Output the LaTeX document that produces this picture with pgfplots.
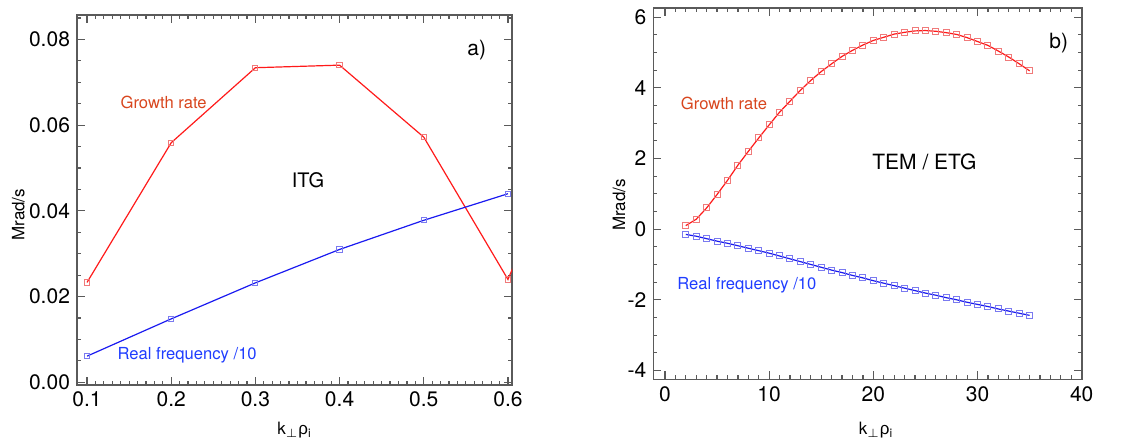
\documentclass[border=0pt]{standalone}
\usepackage{fontspec}
\setmainfont{TeX Gyre Heros}
\newfontfamily\grk{Liberation Sans}
\usepackage{pgfplots}
\pgfplotsset{compat=1.18}
\definecolor{lred}{HTML}{FF1A1A}
\definecolor{mred}{HTML}{F07A7A}
\definecolor{lblue}{HTML}{1A1AF0}
\definecolor{mblue}{HTML}{7A7AF0}
\definecolor{txtred}{HTML}{D8461E}
\definecolor{txtblue}{HTML}{1F3DFF}
\definecolor{framec}{HTML}{5A5A5A}
\pgfplotsset{mystyle/.style={scale only axis, anchor=south west,
  axis line style={framec, line width=0.8pt},
  tick style={framec, line width=0.6pt},
  tick align=inside, major tick length=4pt, minor tick length=2pt,
  ticklabel style={font=\fontsize{10.5}{12}\selectfont, text=black},
  /pgf/number format/assume math mode=true,
  label style={font=\fontsize{8.5}{10}\selectfont},
  xlabel={k\textsubscript{$\perp$}{\grk ρ}\textsubscript{i}},
  ylabel={Mrad/s},
}}
\begin{document}
\begin{tikzpicture}
\useasboundingbox (0,0) rectangle (571pt,220pt);
% ---------------- left panel
\begin{axis}[mystyle, at={(38.5pt,27.5pt)}, width=217.5pt, height=185pt,
  xmin=0.0881, xmax=0.6048, ymin=-0.00063, ymax=0.0857,
  xtick={0.1,0.2,0.3,0.4,0.5,0.6}, ytick={0,0.02,0.04,0.06,0.08},
  minor x tick num=9,
  minor ytick={0.005,0.01,0.015,0.025,0.03,0.035,0.045,0.05,0.055,0.065,0.07,0.075,0.085},
  yticklabel style={/pgf/number format/.cd, fixed, fixed zerofill, precision=2},
  xticklabel style={/pgf/number format/.cd, fixed, fixed zerofill, precision=1},
  scaled y ticks=false,
  xlabel style={at={(axis description cs:0.5,-0.122)}, anchor=center},
  ylabel style={at={(axis description cs:-0.135,0.46)}, anchor=center},
]
\addplot[lred, line width=0.6pt, mark=square, mark size=1.3pt,
  mark options={mred, line width=0.5pt}] coordinates {
  (0.1,0.0233) (0.2,0.0559) (0.3,0.0734) (0.4,0.0740) (0.5,0.0572) (0.6,0.0240) (0.7,0.070)};
\addplot[lblue, line width=0.6pt, mark=square, mark size=1.3pt,
  mark options={mblue, line width=0.5pt}] coordinates {
  (0.1,0.0061) (0.2,0.0148) (0.3,0.0232) (0.4,0.0310) (0.5,0.0378) (0.6,0.0440)};
\node[txtred, font=\fontsize{8.3}{10}\selectfont] at (axis cs:0.191,0.0654) {Growth rate};
\node[txtblue, font=\fontsize{8.3}{10}\selectfont] at (axis cs:0.219,0.00625) {Real frequency /10};
\node[black, font=\fontsize{10}{12}\selectfont] at (axis cs:0.3625,0.0472) {ITG};
\node[black, font=\fontsize{10.5}{12}\selectfont] at (axis cs:0.563,0.0776) {a)};
\end{axis}
% ---------------- right panel
\begin{axis}[mystyle, at={(326.65pt,30.35pt)}, width=214.2pt, height=185.5pt,
  xmin=-1.12, xmax=40, ymin=-4.25, ymax=6.25,
  xtick={0,10,20,30,40}, ytick={-4,-2,0,2,4,6},
  minor x tick num=9, minor y tick num=3,
  xlabel style={at={(axis description cs:0.52,-0.136)}, anchor=center},
  ylabel style={at={(axis description cs:-0.08,0.47)}, anchor=center},
]
\addplot[lred, line width=0.6pt, mark=square, mark size=1.5pt,
  mark options={mred, line width=0.5pt}] coordinates {
  (2,0.10) (3,0.28) (4,0.60) (5,0.98) (6,1.38) (7,1.81) (8,2.20) (9,2.58)
  (10,2.95) (11,3.31) (12,3.62) (13,3.93) (14,4.21) (15,4.46) (16,4.68)
  (17,4.89) (18,5.06) (19,5.21) (20,5.34) (21,5.43) (22,5.52) (23,5.57)
  (24,5.61) (25,5.62) (26,5.60) (27,5.56) (28,5.51) (29,5.42) (30,5.31)
  (31,5.20) (32,5.04) (33,4.87) (34,4.68) (35,4.48)};
\addplot[lblue, line width=0.6pt, mark=square, mark size=1.5pt,
  mark options={mblue, line width=0.5pt}] coordinates {
  (2,-0.15) (3,-0.20) (4,-0.27) (5,-0.34) (6,-0.40) (7,-0.47) (8,-0.54)
  (9,-0.61) (10,-0.68) (11,-0.76) (12,-0.84) (13,-0.92) (14,-1.00)
  (15,-1.08) (16,-1.16) (17,-1.23) (18,-1.31) (19,-1.38) (20,-1.46)
  (21,-1.53) (22,-1.60) (23,-1.67) (24,-1.74) (25,-1.81) (26,-1.87)
  (27,-1.94) (28,-2.00) (29,-2.07) (30,-2.13) (31,-2.19) (32,-2.26)
  (33,-2.32) (34,-2.38) (35,-2.44)};
\node[txtred, font=\fontsize{8.3}{10}\selectfont] at (axis cs:5.66,3.56) {Growth rate};
\node[txtblue, font=\fontsize{8.3}{10}\selectfont] at (axis cs:7.86,-1.58) {Real frequency /10};
\node[black, font=\fontsize{10.5}{12}\selectfont] at (axis cs:24.9,1.91) {TEM / ETG};
\node[black, font=\fontsize{10.5}{12}\selectfont] at (axis cs:37.8,5.26) {b)};
\end{axis}
\end{tikzpicture}
\end{document}
